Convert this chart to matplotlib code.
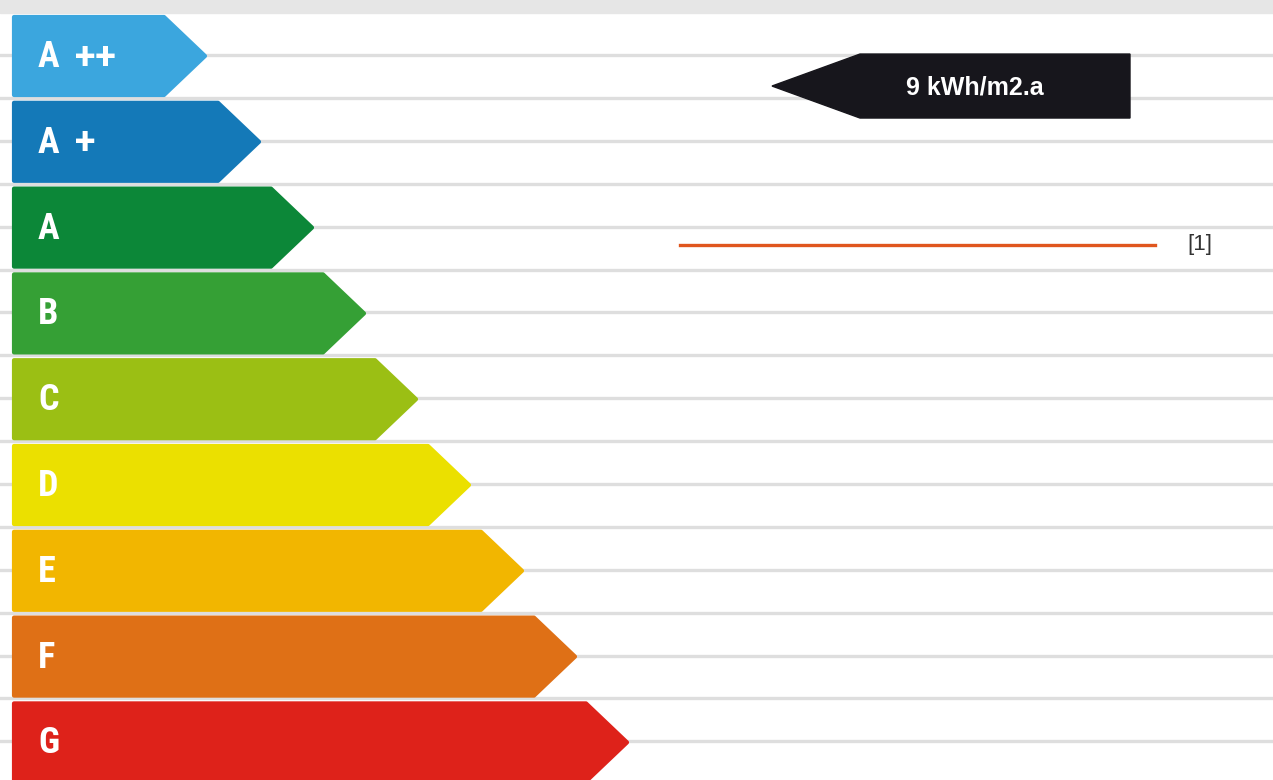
import matplotlib
matplotlib.use('Agg')
import matplotlib.pyplot as plt
from matplotlib.patches import Polygon, Rectangle

# Energy classes and bar lengths (tip x, in pixels of the label)
classes = ['A ++', 'A +', 'A', 'B', 'C', 'D', 'E', 'F', 'G']
tip_x = [206, 260, 313, 365, 417, 470, 523, 576, 628]
colors = ['#3ba6de', '#1479b8', '#0c8738', '#35a035', '#9bbf14',
          '#ebe000', '#f2b600', '#df7016', '#de221a']

# marker: building value and reference line
marker_text = '9 kWh/m2.a'
marker_row = 0.35
ref_row = 2.2
ref_label = '[1]'

# layout (pixels)
W, H = 1273, 780
row0 = 56
pitch = 85.8
bar_h = 78
left = 14
tip_len = 41

fig = plt.figure(figsize=(W / 100, H / 100), dpi=100)
ax = fig.add_axes([0, 0, 1, 1])
ax.set_xlim(0, W)
ax.set_ylim(H, 0)
ax.axis('off')

# background: top strip and grey rule lines
ax.add_patch(Rectangle((0, 0), W, 13, color='#e6e6e6', zorder=0))
y = row0 - 1
while y < H:
    ax.plot([0, W], [y, y], color='#dedede', lw=2.4, zorder=1)
    y += pitch / 2

for i, (c, t, col) in enumerate(zip(classes, tip_x, colors)):
    yc = row0 + i * pitch
    top, bot = yc - bar_h / 2, yc + bar_h / 2
    pts = [(left, top), (t - tip_len - 1, top), (t - 1, yc), (t - tip_len - 1, bot), (left, bot)]
    ax.add_patch(Polygon(pts, closed=True, facecolor=col, edgecolor=col,
                         lw=3, joinstyle='round', zorder=3))
    letter, _, suffix = c.partition(' ')
    ax.text(38, yc + 1, letter, color='white', fontsize=26, fontweight='bold',
            family='Roboto Condensed', va='center', ha='left', zorder=4)
    if suffix:
        # plus signs: wider font so they sit apart like in the label
        ax.text(75, yc + 2, suffix, color='white', fontsize=27, fontweight='bold',
                family='Roboto', va='center', ha='left', zorder=4)

# black arrow with the value
ym = row0 + marker_row * pitch
ah = 64
pts = [(772, ym), (860, ym - ah / 2), (1130, ym - ah / 2), (1130, ym + ah / 2), (860, ym + ah / 2)]
ax.add_patch(Polygon(pts, closed=True, facecolor='#17161c', edgecolor='#17161c',
                     lw=1, zorder=3))
ax.text(975, ym + 1, marker_text, color='white', fontsize=18, fontweight='bold',
        family='Liberation Sans', ha='center', va='center', zorder=4)

# reference line
yr = row0 + ref_row * pitch
ax.plot([680, 1155], [yr, yr], color='#e0561e', lw=2.4, zorder=3)
ax.text(1187, yr, ref_label, color='#333333', fontsize=16,
        family='Liberation Sans', ha='left', va='center', zorder=4)

fig.savefig('out.png', dpi=100)
